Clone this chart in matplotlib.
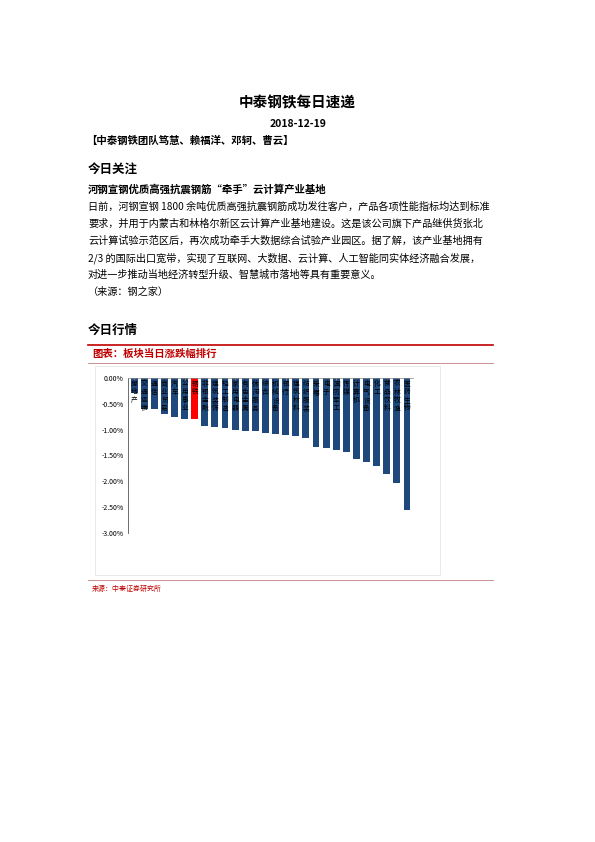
import matplotlib
matplotlib.use("Agg")
import matplotlib.pyplot as plt
from matplotlib.patches import Rectangle
from matplotlib.lines import Line2D

plt.rcParams['font.family'] = ['Noto Sans CJK SC', 'DejaVu Sans']

sectors = ["房地产","交通运输","通信","商业贸易","汽车","公用事业","钢铁","非银金融","建筑装饰","轻工制造",
           "家用电器","有色金属","休闲服务","综合","机械设备","银行","建筑材料","纺织服装","采掘","电子",
           "国防军工","传媒","计算机","电气设备","化工","食品饮料","农林牧渔","医药生物"]
changes = [-0.30,-0.60,-0.60,-0.69,-0.75,-0.80,-0.80,-0.93,-0.94,-0.97,
           -1.01,-1.02,-1.03,-1.06,-1.09,-1.11,-1.13,-1.17,-1.34,-1.36,
           -1.39,-1.44,-1.56,-1.63,-1.71,-1.86,-2.04,-2.55]
yticks = [0,-0.5,-1.0,-1.5,-2.0,-2.5,-3.0]

W, H = 595, 842
fig = plt.figure(figsize=(5.95, 8.42), dpi=100)

def t(x, y, s, **kw):
    fig.text(x / W, 1 - y / H, s, **kw)

def hline(x0, x1, y, color, lw):
    fig.add_artist(Line2D([x0 / W, x1 / W], [1 - y / H, 1 - y / H], color=color, lw=lw, transform=fig.transFigure))

t(297, 102, "中泰钢铁每日速递", ha='center', va='center', fontsize=10.5, fontweight='bold')
t(298, 124, "2018-12-19", ha='center', va='center', fontsize=7.5, fontweight='bold')
t(86, 141, "【中泰钢铁团队笃慧、赖福洋、邓轲、曹云】", ha='left', va='center', fontsize=7.5, fontweight='bold')
t(88, 170, "今日关注", ha='left', va='center', fontsize=9, fontweight='bold')
t(88, 190, "河钢宣钢优质高强抗震钢筋“牵手”云计算产业基地", ha='left', va='center', fontsize=7.5, fontweight='bold')
body = ["日前，河钢宣钢 1800 余吨优质高强抗震钢筋成功发往客户，产品各项性能指标均达到标准",
        "要求，并用于内蒙古和林格尔新区云计算产业基地建设。这是该公司旗下产品继供货张北",
        "云计算试验示范区后，再次成功牵手大数据综合试验产业园区。据了解，该产业基地拥有",
        "2/3 的国际出口宽带，实现了互联网、大数据、云计算、人工智能同实体经济融合发展，",
        "对进一步推动当地经济转型升级、智慧城市落地等具有重要意义。",
        "（来源：钢之家）"]
for i, line in enumerate(body):
    t(88, 207 + i * 17, line, ha='left', va='center', fontsize=7.3)
t(88, 330, "今日行情", ha='left', va='center', fontsize=9, fontweight='bold')

hline(88, 493, 345, '#c00000', 1.2)
t(92, 354, "图表：板块当日涨跌幅排行", ha='left', va='center', fontsize=7.5, fontweight='bold',
  color='#c00000', style='italic')
hline(88, 493, 363, '#c08080', 0.6)
fig.add_artist(Rectangle((95 / W, 1 - 575 / H), 345 / W, 209 / H, transform=fig.transFigure,
                         fill=False, ec='#e6e6e6', lw=0.6))
hline(88, 493, 580, '#c08080', 0.6)
t(92, 589, "来源：中泰证券研究所", ha='left', va='center', fontsize=5, color='#c00000')

ax = fig.add_axes([128 / W, 1 - 533 / H, (413 - 128) / W, (533 - 378) / H])
colors = ['#ff0000' if s == "钢铁" else '#1f497d' for s in sectors]
x = list(range(len(sectors)))
ax.bar(x, changes, width=0.68, color=colors)
ax.set_xlim(-0.6, len(sectors) - 0.4)
ax.set_ylim(-3.0, 0)
ax.set_yticks(yticks)
ax.set_yticklabels([f"{v:.2f}%" for v in yticks], fontsize=5)
ax.tick_params(axis='y', length=0, pad=3)
ax.tick_params(axis='x', bottom=False, labelbottom=False, top=True, direction='in', length=1.5, color='#888888')
for sp in ['bottom', 'right']:
    ax.spines[sp].set_visible(False)
ax.spines['top'].set_color('#888888')
ax.spines['top'].set_linewidth(0.5)
ax.spines['left'].set_color('#555555')
ax.spines['left'].set_linewidth(0.6)
for xi, s in zip(x, sectors):
    ax.text(xi, -0.03, "\n".join(s), ha='center', va='top', fontsize=4.8, linespacing=1.05, color='black')

fig.savefig("out.png", dpi=100)
